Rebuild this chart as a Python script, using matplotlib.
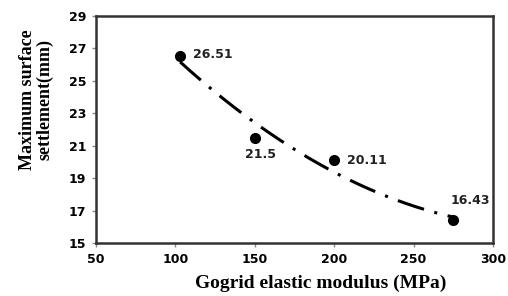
import numpy as np
import matplotlib.pyplot as plt

modulus = [103, 150, 200, 275]
settlement = [26.51, 21.5, 20.11, 16.43]
labels = ["26.51", "21.5", "20.11", "16.43"]
offsets = [(9.5, 1), (4, -12), (9, 0), (12, 14)]
aligns = ["left", "center", "left", "center"]

fig = plt.figure(figsize=(5.08, 2.96), dpi=100)
ax = fig.add_axes([96 / 508, 1 - 243 / 296, 397 / 508, 227 / 296])

# 2nd order trendline, as in the spreadsheet
coef = np.polyfit(modulus, settlement, 2)
xs = np.linspace(min(modulus), max(modulus), 200)
ax.plot(xs, np.polyval(coef, xs), color="black", lw=2.2,
        dashes=(9, 3.5, 1, 3.5), zorder=2)
ax.plot(modulus, settlement, "o", color="black", ms=7, zorder=3)

for x, y, t, off, ha in zip(modulus, settlement, labels, offsets, aligns):
    ax.annotate(t, (x, y), xytext=off, textcoords="offset points",
                ha=ha, va="center", fontsize=9, fontweight="bold",
                family="DejaVu Sans", color="#222222")

ax.set_xlim(50, 300)
ax.set_ylim(15, 29)
ax.set_xticks(range(50, 301, 50))
ax.set_yticks(range(15, 30, 2))
for lab in ax.get_xticklabels() + ax.get_yticklabels():
    lab.set_family("DejaVu Sans")
    lab.set_fontweight("bold")
    lab.set_fontsize(9)
ax.tick_params(direction="out", length=3, width=1, color="#888888", pad=4)
for s in ax.spines.values():
    s.set_linewidth(1.8)
    s.set_color("#333333")

ax.set_xlabel("Gogrid elastic modulus (MPa)", family="Liberation Serif",
              fontweight="bold", fontsize=14)
ax.xaxis.set_label_coords(0.567, -0.14)
ax.set_ylabel("Maximum surface\nsettlement(mm)", family="Liberation Serif",
              fontweight="bold", fontsize=13, linespacing=1.0)
ax.yaxis.set_label_coords(-0.108, 0.63)

fig.savefig("out.png", dpi=100)
